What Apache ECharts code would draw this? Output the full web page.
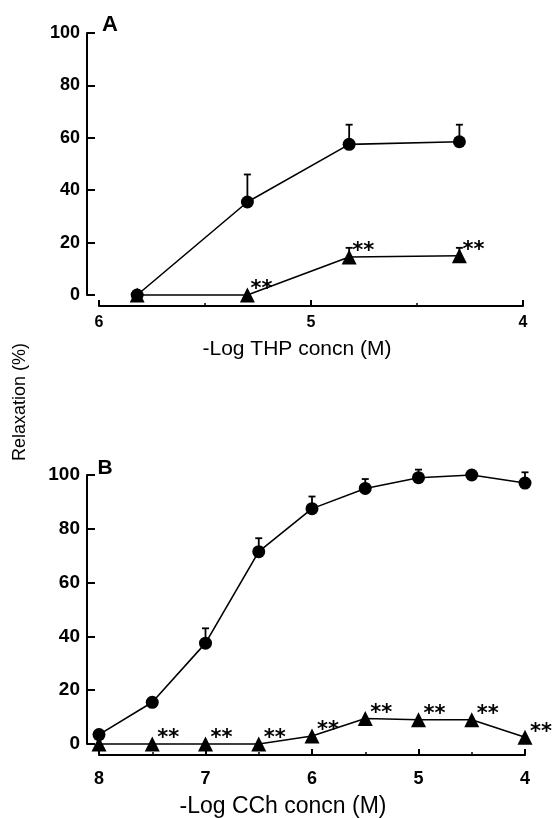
<!DOCTYPE html>
<html><head><meta charset="utf-8">
<script src="https://cdn.jsdelivr.net/npm/echarts@6/dist/echarts.min.js"></script>
<style>html,body{margin:0;padding:0;background:#fff}#c{width:556px;height:818px}</style>
</head><body><div id="c"></div>
<script>
// ---- Panel A: THP ----
const thpLogConc = [5.82, 5.30, 4.82, 4.30];
const thpControl = [0, 35.5, 57.5, 58.5];
const thpControlSEMTop = [null, 46, 65, 65];
const thpTreated = [0, 0, 14.5, 15];
const thpTreatedSEMTop = [null, null, 18, 18];
const thpSignificant = [false, true, true, true];
const thpXTitle = '-Log THP concn (M)';

// ---- Panel B: CCh ----
const cchLogConc = [8, 7.5, 7, 6.5, 6, 5.5, 5, 4.5, 4];
const cchControl = [3.5, 15.5, 37.5, 71.5, 87.5, 95, 99, 100, 97];
const cchControlSEMTop = [null, null, 43, 76.5, 92, 98.5, 102, null, 101];
const cchTreated = [0, 0, 0, 0, 3, 9.5, 9, 9, 2.5];
const cchTreatedSEMTop = [null, null, null, null, null, null, null, null, null];
const cchSignificant = [false, true, true, true, true, true, true, true, true];
const cchXTitle = '-Log CCh concn (M)';

const yTitle = 'Relaxation (%)';
const FONT = '"Liberation Sans", Arial, Helvetica, sans-serif';

function pairs(xs, ys) { return xs.map((x, i) => [x, ys[i]]); }

function errSeries(idx, xs, ys, tops) {
  const data = [];
  xs.forEach((x, i) => { if (tops[i] != null) data.push([x, ys[i], tops[i]]); });
  return {
    type: 'custom', xAxisIndex: idx, yAxisIndex: idx, clip: false, z: 1, silent: true,
    encode: { x: 0, y: [1, 2] }, data,
    renderItem(params, api) {
      const p0 = api.coord([api.value(0), api.value(1)]);
      const p1 = api.coord([api.value(0), api.value(2)]);
      const w = 3.5;
      const st = { stroke: '#000', lineWidth: 1.8 };
      return { type: 'group', children: [
        { type: 'line', shape: { x1: p0[0], y1: p0[1], x2: p1[0], y2: p1[1] }, style: st },
        { type: 'line', shape: { x1: p1[0] - w, y1: p1[1], x2: p1[0] + w, y2: p1[1] }, style: st }
      ]};
    }
  };
}

function circleSeries(idx, xs, ys) {
  return {
    type: 'line', xAxisIndex: idx, yAxisIndex: idx, z: 3, clip: false,
    data: pairs(xs, ys), symbol: 'circle', symbolSize: 13, showAllSymbol: true,
    itemStyle: { color: '#000' }, lineStyle: { color: '#000', width: 1.6 }, animation: false
  };
}

function triSeries(idx, xs, ys, sig, off) {
  return {
    type: 'line', xAxisIndex: idx, yAxisIndex: idx, z: 4, clip: false,
    data: xs.map((x, i) => ({ value: [x, ys[i]], label: { show: sig[i] } })),
    symbol: 'triangle', symbolSize: 15, showAllSymbol: true,
    itemStyle: { color: '#000' }, lineStyle: { color: '#000', width: 1.6 },
    label: { formatter: '**', position: 'inside', offset: off, color: '#000',
      fontFamily: '"DejaVu Sans", sans-serif', fontWeight: 'bold', fontSize: 21 },
    animation: false
  };
}

function xAxisCfg(idx, min, max, labelSize, margin) {
  return {
    type: 'value', gridIndex: idx, min, max, interval: 1, inverse: true, offset: 11,
    axisLine: { show: true, onZero: false, lineStyle: { color: '#000', width: 2 } },
    axisTick: { show: true, inside: true, length: 6, lineStyle: { color: '#000', width: 2 } },
    minorTick: { show: true, splitNumber: 2, length: 3, lineStyle: { color: '#000', width: 1.5 } },
    splitLine: { show: false },
    axisLabel: { margin, color: '#000', fontFamily: FONT, fontWeight: 'bold', fontSize: labelSize }
  };
}
function yAxisCfg(idx, labelSize) {
  return {
    type: 'value', gridIndex: idx, min: 0, max: 100, interval: 20, offset: 12,
    axisLine: { show: true, onZero: false, lineStyle: { color: '#000', width: 2 } },
    axisTick: { show: true, inside: true, length: 8, lineStyle: { color: '#000', width: 2 } },
    splitLine: { show: false },
    axisLabel: { margin: 7, color: '#000', fontFamily: FONT, fontWeight: 'bold', fontSize: labelSize }
  };
}

const chart = echarts.init(document.getElementById('c'));
chart.setOption({
  backgroundColor: '#fff',
  animation: false,
  grid: [
    { left: 99, right: 33, top: 33, bottom: 523 },
    { left: 99, right: 31, top: 475, bottom: 74 }
  ],
  xAxis: [ xAxisCfg(0, 4, 6, 16, 9), xAxisCfg(1, 4, 8, 18, 15) ],
  yAxis: [ yAxisCfg(0, 18), yAxisCfg(1, 19) ],
  series: [
    errSeries(0, thpLogConc, thpControl, thpControlSEMTop),
    errSeries(0, thpLogConc, thpTreated, thpTreatedSEMTop),
    circleSeries(0, thpLogConc, thpControl),
    triSeries(0, thpLogConc, thpTreated, thpSignificant, [14, -5]),
    errSeries(1, cchLogConc, cchControl, cchControlSEMTop),
    errSeries(1, cchLogConc, cchTreated, cchTreatedSEMTop),
    circleSeries(1, cchLogConc, cchControl),
    triSeries(1, cchLogConc, cchTreated, cchSignificant, [16, -5])
  ],
  graphic: [
    { type: 'text', x: 110, y: 25, style: { text: 'A', font: 'bold 22px ' + FONT, fill: '#000', textAlign: 'center', textVerticalAlign: 'middle' } },
    { type: 'text', x: 105, y: 468, style: { text: 'B', font: 'bold 21px ' + FONT, fill: '#000', textAlign: 'center', textVerticalAlign: 'middle' } },
    { type: 'text', x: 297, y: 349, style: { text: thpXTitle, font: '21px ' + FONT, fill: '#000', textAlign: 'center', textVerticalAlign: 'middle' } },
    { type: 'text', x: 283, y: 807, style: { text: cchXTitle, font: '23px ' + FONT, fill: '#000', textAlign: 'center', textVerticalAlign: 'middle' } },
    { type: 'text', x: 20, y: 402, rotation: Math.PI / 2, style: { text: yTitle, font: '18px ' + FONT, fill: '#000', textAlign: 'center', textVerticalAlign: 'middle' } }
  ]
});
</script></body></html>
